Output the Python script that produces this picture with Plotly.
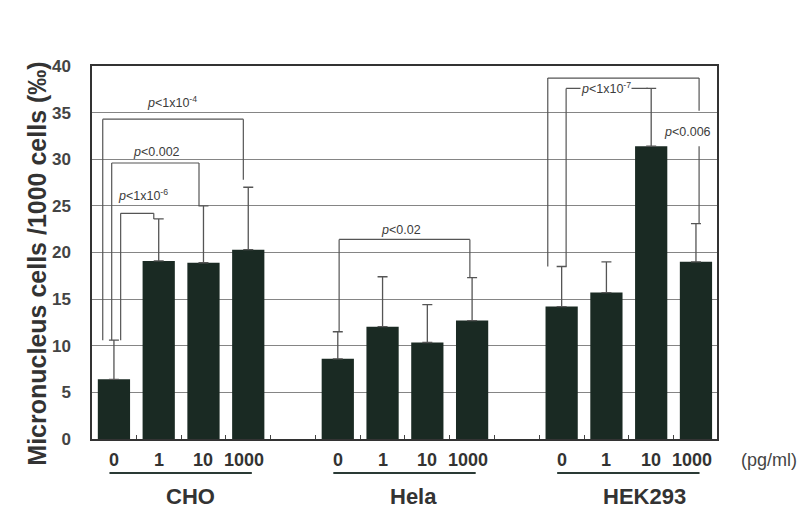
import plotly.graph_objects as go

# ---- data ----
groups = ["CHO", "Hela", "HEK293"]
doses = ["0", "1", "10", "1000"]
means = {
    "CHO": [6.4, 19.1, 18.9, 20.3],
    "Hela": [8.6, 12.05, 10.35, 12.7],
    "HEK293": [14.2, 15.7, 31.4, 19.0],
}
sds = {
    "CHO": [4.2, 4.5, 6.1, 6.7],
    "Hela": [2.9, 5.35, 4.05, 4.6],
    "HEK293": [4.3, 3.3, 6.2, 4.1],
}
y_ticks = [0, 5, 10, 15, 20, 25, 30, 35, 40]
unit_label = "(pg/ml)"
y_title = "Micronucleus cells /1000 cells (‰)"

# significance brackets: group, dose index left/right, bracket height,
# left/right leg bottoms, label, label height
brackets = [
    ("CHO", 0, 1, 24.2, 10.6, 23.6, "<i>p</i>&lt;1x10<sup>-6</sup>", 26.2),
    ("CHO", 0, 2, 29.6, 10.6, 25.0, "<i>p</i>&lt;0.002", 30.75),
    ("CHO", 0, 3, 34.3, 10.6, 27.8, "<i>p</i>&lt;1x10<sup>-4</sup>", 36.1),
    ("Hela", 0, 3, 21.4, 11.5, 17.3, "<i>p</i>&lt;0.02", 22.4),
]

FONT = "Liberation Sans, Arial, sans-serif"
BAR = "#1a2a23"
TXT = "#333333"
PTXT = "#3c3c3c"

step = 5  # slots per group (4 bars + gap)
fig = go.Figure()

xs, ys, es = [], [], []
for gi, g in enumerate(groups):
    for di in range(len(doses)):
        xs.append(gi * step + di)
        ys.append(means[g][di])
        es.append(sds[g][di])

fig.add_trace(go.Bar(
    x=xs, y=ys, width=0.72,
    marker=dict(color=BAR, line=dict(width=0)),
    error_y=dict(type="data", symmetric=False, array=es, arrayminus=[0] * len(es),
                 color="#555555", thickness=1.3, width=5),
    showlegend=False, hoverinfo="skip",
))

shapes = []
annots = []
LC = "#555555"

def seg(x0, y0, x1, y1):
    shapes.append(dict(type="line", xref="x", yref="y", x0=x0, y0=y0, x1=x1, y1=y1,
                       line=dict(color=LC, width=1.2), layer="above"))

# offsets of bracket legs relative to bar centres
left_off = {1: 0.15, 2: -0.05, 3: -0.25}
right_off = {1: -0.11, 2: -0.1, 3: -0.11}
label_x = {1: 0.65, 2: 0.96, 3: 1.3}
for g, a, b, h, lb, rb, lab, ly in brackets:
    gi = groups.index(g)
    base = gi * step
    if g == "CHO":
        xl = base + a + left_off[b]
        xr = base + b + right_off[b]
        lx = base + label_x[b]
    else:
        xl = base + a + 0.03
        xr = base + b - 0.05
        lx = base + 1.41
    seg(xl, lb, xl, h)
    seg(xl, h, xr, h)
    seg(xr, h, xr, rb)
    annots.append(dict(x=lx, y=ly, xref="x", yref="y", text=lab, showarrow=False,
                       font=dict(family=FONT, size=12.5, color=PTXT)))

# HEK293 brackets
hb = 2 * step
seg(hb - 0.31, 18.5, hb - 0.31, 38.7)
seg(hb - 0.31, 38.7, hb + 3.07, 38.7)
seg(hb + 3.07, 38.7, hb + 3.07, 35.2)
seg(hb + 3.07, 31.4, hb + 3.07, 23.1)
seg(hb + 0.1, 18.5, hb + 0.1, 37.6)
seg(hb + 0.1, 37.6, hb + 1.93, 37.6)
annots.append(dict(x=hb + 1.0, y=37.6, xref="x", yref="y",
                   text="<i>p</i>&lt;1x10<sup>-7</sup>", showarrow=False,
                   bgcolor="white", borderpad=0,
                   font=dict(family=FONT, size=12.5, color=PTXT)))
annots.append(dict(x=hb + 2.8, y=32.9, xref="x", yref="y",
                   text="<i>p</i>&lt;0.006", showarrow=False,
                   font=dict(family=FONT, size=12.5, color=PTXT)))

# dose labels, underlines, group names
group_label_off = [0.2, 0.2, 0.35]
for gi, g in enumerate(groups):
    base = gi * step
    for di, d in enumerate(doses):
        annots.append(dict(x=base + di, y=-0.056, xref="x", yref="paper", text=d,
                           showarrow=False, yanchor="middle",
                           xshift=-4 if di == 3 else 0,
                           font=dict(family=FONT, size=18, color=TXT, weight="bold")))
    shapes.append(dict(type="line", xref="x", yref="paper", x0=base - 0.1, x1=base + 3.08,
                       y0=-0.091, y1=-0.091, line=dict(color="#2a3a35", width=2)))
    annots.append(dict(x=base + 1.5 + group_label_off[gi], y=-0.153, xref="x", yref="paper",
                       text=g, showarrow=False, yanchor="middle",
                       font=dict(family=FONT, size=22, color=TXT, weight="bold")))

annots.append(dict(x=1.035, y=-0.056, xref="paper", yref="paper", text=unit_label,
                   showarrow=False, yanchor="middle", xanchor="left",
                   font=dict(family=FONT, size=18, color="#444444")))
annots.append(dict(x=-0.088, y=0.47, xref="paper", yref="paper", text=y_title,
                   showarrow=False, textangle=-90, xanchor="center", yanchor="middle",
                   font=dict(family=FONT, size=25, color=TXT, weight="bold")))

fig.update_layout(
    width=809, height=512,
    margin=dict(l=92, r=92, t=66, b=73),
    paper_bgcolor="white", plot_bgcolor="white",
    shapes=shapes, annotations=annots,
    xaxis=dict(range=[-0.49, 13.47], showticklabels=False, showgrid=False, zeroline=False,
               tickmode="array", tickvals=[i + 0.5 for i in range(-1, 14)], ticks="inside",
               ticklen=4, tickcolor="#444", showline=True, linecolor="#333",
               linewidth=1.5, mirror=True),
    yaxis=dict(range=[0, 40], tickvals=y_ticks, showgrid=True, gridcolor="#858585",
               gridwidth=1, zeroline=False, showline=True, linecolor="#333",
               linewidth=1.5, mirror=True, ticks="", ticklabelstandoff=16,
               tickfont=dict(family=FONT, size=17, color="#444444", weight="bold")),
    bargap=0.2,
)

fig.write_html("out.html")
